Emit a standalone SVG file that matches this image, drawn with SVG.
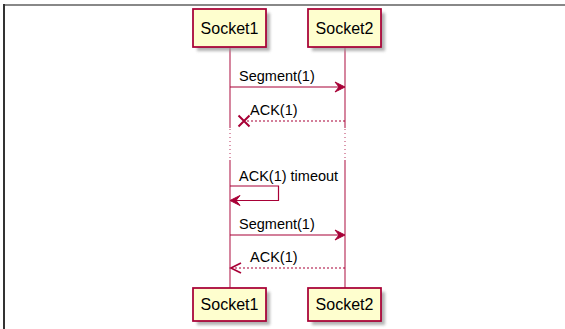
<svg xmlns="http://www.w3.org/2000/svg" width="565" height="329" viewBox="0 0 565 329">
<defs>
<filter id="sh" x="-20%" y="-20%" width="150%" height="160%">
<feGaussianBlur stdDeviation="1.6"/>
</filter>
<style>
.box{fill:#FEFECE;stroke:#A80036;stroke-width:1.75}
.shd{fill:#999;opacity:0.75;filter:url(#sh)}
.pt{font-family:"Liberation Sans",Arial,sans-serif;font-size:16px;fill:#000;text-anchor:middle}
.mt{font-family:"Liberation Sans",Arial,sans-serif;font-size:14.5px;fill:#000}
.life{stroke:#A80036;stroke-width:1.2;fill:none;opacity:0.8}
.dots{stroke:#A80036;stroke-width:1;stroke-dasharray:1,3;fill:none;opacity:0.8}
.msg{stroke:#A80036;stroke-width:1.2;fill:none}
.dash{stroke:#A80036;stroke-width:1.2;stroke-dasharray:2,2;fill:none}
.head{fill:#A80036;stroke:#A80036;stroke-width:1}
</style>
</defs>
<rect width="565" height="329" fill="#fff"/>
<line x1="4" y1="5" x2="565" y2="5" stroke="#888" stroke-width="2"/>
<line x1="4" y1="4" x2="4" y2="329" stroke="#333" stroke-width="2"/>

<g id="lifelines">
<line class="life" x1="230" y1="48" x2="230" y2="128"/>
<line class="dots" x1="230" y1="129" x2="230" y2="160"/>
<line class="life" x1="230" y1="160" x2="230" y2="288"/>
<line class="life" x1="345" y1="48" x2="345" y2="128"/>
<line class="dots" x1="345" y1="129" x2="345" y2="160"/>
<line class="life" x1="345" y1="160" x2="345" y2="288"/>
</g>

<g id="socket1-top">
<rect class="shd" x="197" y="13" width="73" height="38"/>
<rect class="box" x="193" y="9" width="73" height="38"/>
<text class="pt" x="229.5" y="34">Socket1</text>
</g>
<g id="socket2-top">
<rect class="shd" x="312" y="13" width="73" height="38"/>
<rect class="box" x="308" y="9" width="73" height="38"/>
<text class="pt" x="344.5" y="34">Socket2</text>
</g>
<g id="socket1-bottom">
<rect class="shd" x="197" y="292" width="73" height="33"/>
<rect class="box" x="193" y="288" width="73" height="33"/>
<text class="pt" x="229.5" y="310">Socket1</text>
</g>
<g id="socket2-bottom">
<rect class="shd" x="312" y="292" width="73" height="33"/>
<rect class="box" x="308" y="288" width="73" height="33"/>
<text class="pt" x="344.5" y="310">Socket2</text>
</g>

<g id="connectors">
<line class="msg" x1="230" y1="87" x2="343" y2="87"/>
<polygon class="head" points="345,87 335,82 339,87 335,92"/>
<text class="mt" x="239" y="81">Segment(1)</text>

<line class="dash" x1="345" y1="121" x2="244" y2="121"/>
<path d="M238.5,115.5 L249.5,126.5 M238.5,126.5 L249.5,115.5" stroke="#A80036" stroke-width="2" fill="none"/>
<text class="mt" x="250" y="115">ACK(1)</text>

<polyline class="msg" points="230,186 278.5,186 278.5,200.5 232,200.5"/>
<polygon class="head" points="230,200.5 240,195.5 236,200.5 240,205.5"/>
<text class="mt" x="239" y="181">ACK(1) timeout</text>

<line class="msg" x1="230" y1="235" x2="343" y2="235"/>
<polygon class="head" points="345,235 335,230 339,235 335,240"/>
<text class="mt" x="239" y="229">Segment(1)</text>

<line class="dash" x1="345" y1="268" x2="232" y2="268"/>
<path d="M241,263 L231,268 L241,273" stroke="#A80036" stroke-width="1.75" fill="none"/>
<text class="mt" x="250" y="262">ACK(1)</text>
</g>
</svg>
